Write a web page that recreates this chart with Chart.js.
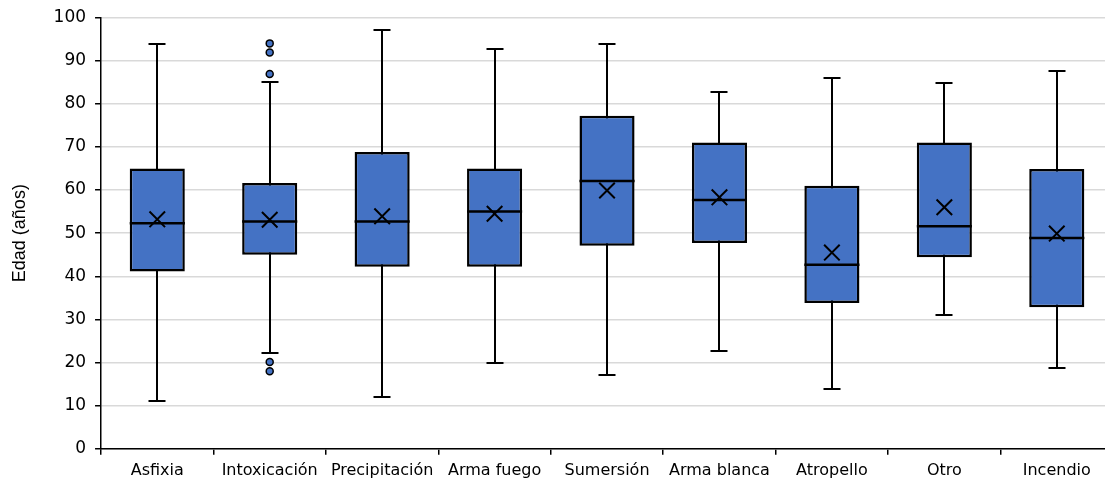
<!DOCTYPE html>
<html>
<head>
<meta charset="utf-8">
<script src="https://cdn.jsdelivr.net/npm/chart.js@4"></script>
<style>
  html, body { margin: 0; padding: 0; background: #fff; overflow: hidden; }
  canvas { display: block; }
</style>
</head>
<body>
<canvas id="chart" width="1126" height="486"></canvas>
<script>
const categories = ['Asfixia', 'Intoxicación', 'Precipitación', 'Arma fuego', 'Sumersión', 'Arma blanca', 'Atropello', 'Otro', 'Incendio']

// five-number summary per category
const whiskerLow = [11, 22.2, 12.1, 20, 17.1, 22.7, 13.8, 31.1, 18.8]
const q1 = [41.1, 45, 42.2, 42.2, 47.1, 47.7, 33.8, 44.4, 32.8]
const median = [52.3, 52.7, 52.7, 55, 62.1, 57.7, 42.7, 51.6, 48.9]
const q3 = [65, 61.6, 68.8, 65, 77.2, 71, 61, 71, 64.9]
const whiskerHigh = [93.8, 85, 97.1, 92.6, 93.8, 82.7, 86, 84.9, 87.7]
const mean = [53.2, 53.1, 53.9, 54.5, 59.9, 58.3, 45.5, 56, 49.9]

const outlierCategory = ['Intoxicación', 'Intoxicación', 'Intoxicación', 'Intoxicación', 'Intoxicación']
const outlierValue = [94, 91.9, 86.9, 20.1, 18]

const yTicks = { min: 0, max: 100, step: 10 }

const boxFill = '#4472c4'
const tickFont = '"DejaVu Sans", sans-serif'
const titleFont = '"Liberation Sans", Arial, sans-serif'

// whiskers behind the boxes, median line on top of them
const boxPlotPlugin = {
  id: 'boxPlot',
  beforeDatasetsDraw (chart) {
    const meta = chart.getDatasetMeta(0)
    const y = chart.scales.y
    const ctx = chart.ctx
    ctx.save()
    ctx.strokeStyle = '#000'
    ctx.lineWidth = 2
    meta.data.forEach((bar, i) => {
      const x = Math.round(bar.x)
      const cap = 8.5
      const top = Math.round(y.getPixelForValue(whiskerHigh[i]))
      const bottom = Math.round(y.getPixelForValue(whiskerLow[i]))
      ctx.beginPath()
      ctx.moveTo(x, top)
      ctx.lineTo(x, bottom)
      ctx.moveTo(x - cap, top)
      ctx.lineTo(x + cap, top)
      ctx.moveTo(x - cap, bottom)
      ctx.lineTo(x + cap, bottom)
      ctx.stroke()
    })
    ctx.restore()
  },
  afterDatasetDraw (chart, args) {
    if (args.index !== 0) return
    const y = chart.scales.y
    const ctx = chart.ctx
    ctx.save()
    ctx.strokeStyle = '#000'
    ctx.lineWidth = 2.5
    args.meta.data.forEach((bar, i) => {
      const half = bar.width / 2
      const py = y.getPixelForValue(median[i])
      ctx.beginPath()
      ctx.moveTo(bar.x - half, py)
      ctx.lineTo(bar.x + half, py)
      ctx.stroke()
    })
    ctx.restore()
  }
}

new Chart(document.getElementById('chart'), {
  type: 'bar',
  data: {
    labels: categories,
    datasets: [
      {
        label: 'Caja',
        data: q1.map((v, i) => [v, q3[i]]),
        backgroundColor: boxFill,
        borderColor: '#000',
        borderWidth: 2.5,
        borderSkipped: false,
        barPercentage: 0.49,
        categoryPercentage: 1,
        grouped: false,
        order: 3
      },
      {
        type: 'line',
        label: 'Media',
        data: mean,
        showLine: false,
        pointStyle: 'crossRot',
        pointRadius: 11,
        pointBorderColor: '#000',
        pointBorderWidth: 2,
        pointBackgroundColor: '#000',
        order: 1
      },
      {
        type: 'line',
        label: 'Atípicos',
        data: outlierCategory.map((c, i) => ({ x: c, y: outlierValue[i] })),
        showLine: false,
        pointStyle: 'circle',
        pointRadius: 3.5,
        pointBackgroundColor: boxFill,
        pointBorderColor: '#000',
        pointBorderWidth: 1.5,
        order: 2
      }
    ]
  },
  options: {
    responsive: false,
    animation: false,
    layout: { padding: { top: 12.5, left: 0, right: 0, bottom: 0 } },
    plugins: {
      legend: { display: false },
      tooltip: { enabled: false }
    },
    scales: {
      x: {
        offset: true,
        border: { color: '#000', width: 1.5 },
        grid: {
          offset: true,
          drawOnChartArea: false,
          drawTicks: true,
          tickLength: 6,
          color: '#000',
          lineWidth: 1.5
        },
        ticks: {
          color: '#000',
          font: { family: tickFont, size: 16 },
          maxRotation: 0,
          autoSkip: false,
          padding: 6
        }
      },
      y: {
        min: yTicks.min,
        max: yTicks.max,
        border: { color: '#000', width: 1.5 },
        grid: {
          color: '#d9d9d9',
          lineWidth: 1.5,
          tickColor: '#000',
          tickLength: 6
        },
        ticks: {
          stepSize: yTicks.step,
          color: '#000',
          font: { family: tickFont, size: 17, lineHeight: 1 },
          padding: 9
        },
        title: {
          display: true,
          text: 'Edad (años)',
          color: '#000',
          font: { family: titleFont, size: 18 },
          padding: { top: 9, bottom: 14 }
        }
      }
    }
  },
  plugins: [boxPlotPlugin]
})
</script>
</body>
</html>
